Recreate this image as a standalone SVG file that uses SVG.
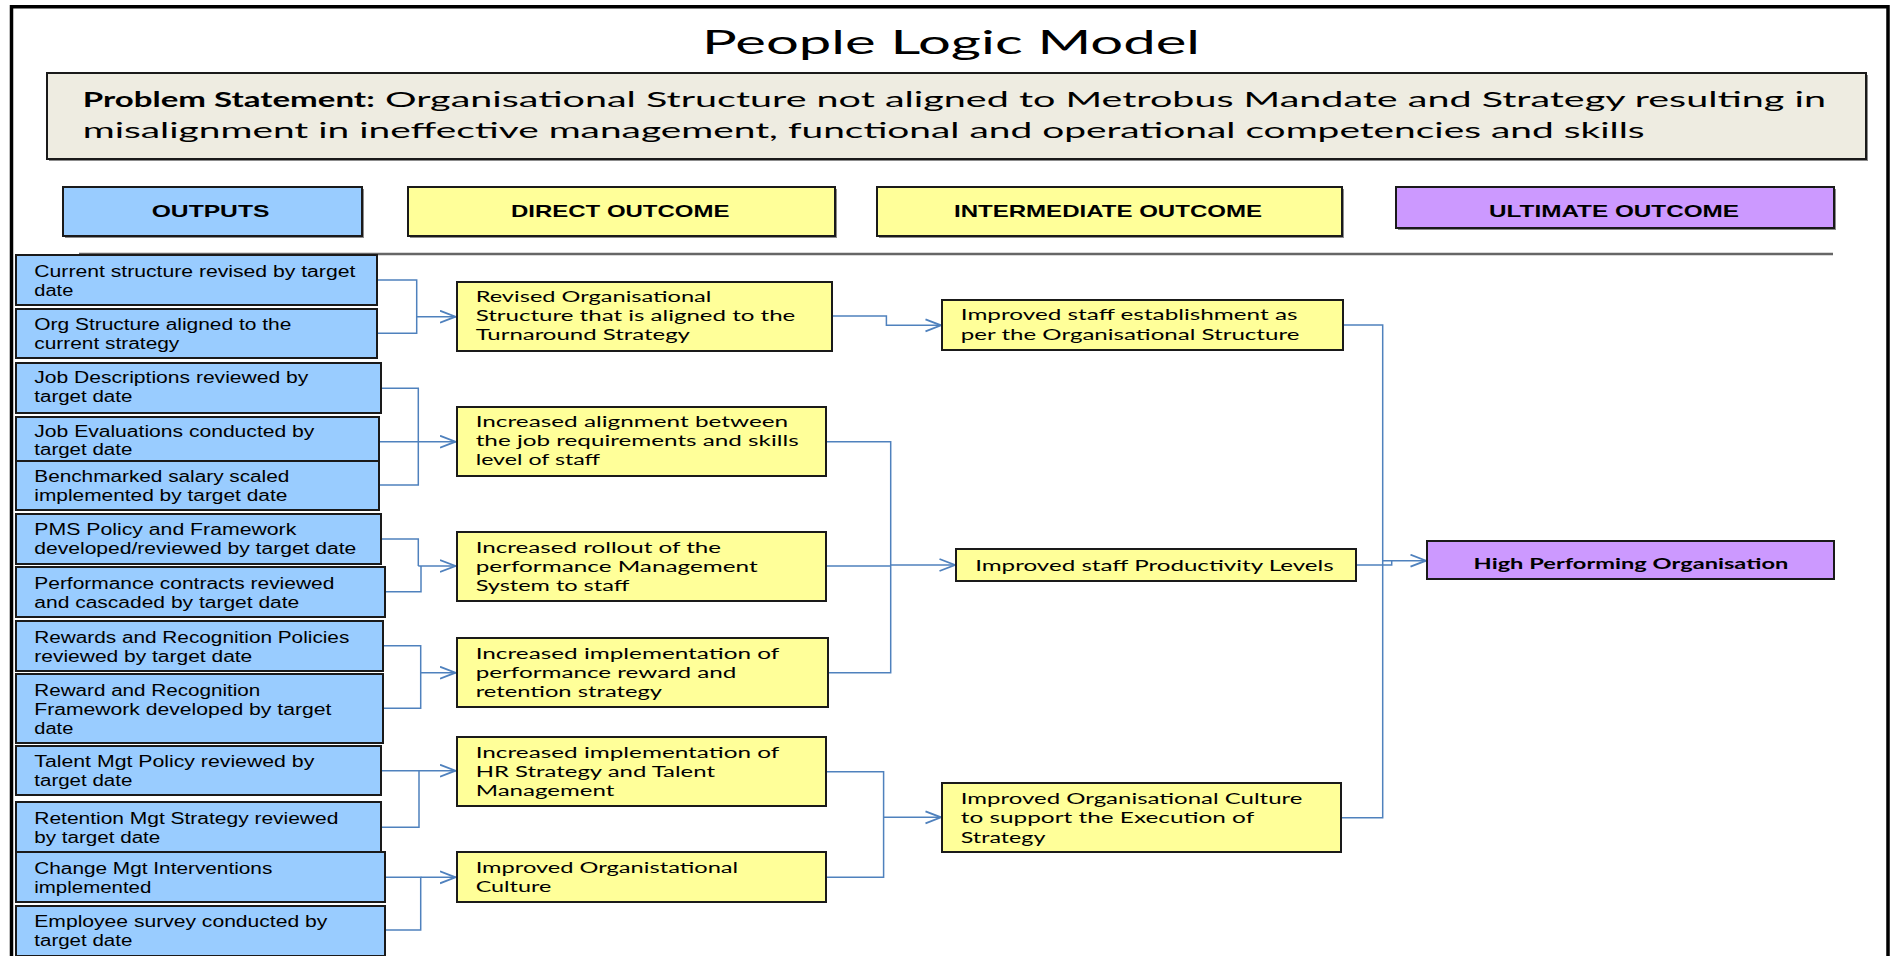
<svg xmlns="http://www.w3.org/2000/svg" width="1903" height="956" viewBox="0 0 1903 956">
<style>
.frame{fill:none;stroke:#000;stroke-width:3.5}
.box{stroke:#1a1a1a;stroke-width:2}
.shadow{fill:#8c8c8c}
.blue{fill:#99CCFF}
.yel{fill:#FFFF99}
.pur{fill:#CC99FF}
.prob{fill:#EEECE1}
.tout{font-family:"Liberation Sans",Arial,sans-serif;font-size:16px;fill:#000}
.thead{font-family:"Liberation Sans",Arial,sans-serif;font-size:17px;font-weight:bold;fill:#000}
.tyel{font-family:Lato,"Liberation Sans",sans-serif;font-size:15.5px;fill:#000}
.tint{font-family:Lato,"Liberation Sans",sans-serif;font-size:16px;fill:#000}
.title{font-family:Lato,"Liberation Sans",sans-serif;font-size:33px;fill:#000}
.tprob{font-family:Lato,"Liberation Sans",sans-serif;font-size:20.5px;fill:#000}
.conn{fill:none;stroke:#4F81BD;stroke-width:1.5}
</style>
<defs>
<marker id="arr" markerUnits="userSpaceOnUse" markerWidth="20" markerHeight="16" refX="16.5" refY="7" orient="auto">
<path d="M0.5,1 L16,7 L0.5,13" fill="none" stroke="#4F81BD" stroke-width="1.8"/>
</marker>
</defs>
<rect width="1903" height="956" fill="#fff"/>
<g id="frame">
<path class="frame" d="M11.5,958 V6.7 H1888 V958"/>
</g>
<g id="title">
<text class="title" x="702" y="54" textLength="498" lengthAdjust="spacingAndGlyphs">People Logic Model</text>
</g>
<g id="problem">
<rect class="shadow" x="49" y="75" width="1819" height="86"/>
<rect class="box prob" x="47" y="73" width="1819" height="86" stroke-width="1.5"/>
<text class="tprob" y="107"><tspan x="82.7" font-weight="bold" textLength="292" lengthAdjust="spacingAndGlyphs">Problem Statement:</tspan><tspan x="385" textLength="1441" lengthAdjust="spacingAndGlyphs">Organisational Structure not aligned to Metrobus Mandate and Strategy resulting in</tspan></text>
<text class="tprob" x="82.7" y="138" textLength="1562" lengthAdjust="spacingAndGlyphs">misalignment in ineffective management, functional and operational competencies and skills</text>
</g>
<g id="header-outputs">
<rect class="shadow" x="65" y="189" width="299" height="49"/>
<rect class="box blue" x="63" y="187" width="299" height="49" stroke-width="1.5"/>
<text class="thead" x="151.7" y="217.3" textLength="117.7" lengthAdjust="spacingAndGlyphs">OUTPUTS</text>
</g>
<g id="header-direct">
<rect class="shadow" x="410" y="189" width="427" height="49"/>
<rect class="box yel" x="408" y="187" width="427" height="49" stroke-width="1.5"/>
<text class="thead" x="511" y="217.3" textLength="218.4" lengthAdjust="spacingAndGlyphs">DIRECT OUTCOME</text>
</g>
<g id="header-intermediate">
<rect class="shadow" x="879" y="189" width="465" height="49"/>
<rect class="box yel" x="877" y="187" width="465" height="49" stroke-width="1.5"/>
<text class="thead" x="954" y="217.3" textLength="308" lengthAdjust="spacingAndGlyphs">INTERMEDIATE OUTCOME</text>
</g>
<g id="header-ultimate">
<rect class="shadow" x="1398" y="189" width="438" height="41"/>
<rect class="box pur" x="1396" y="187" width="438" height="41" stroke-width="1.5"/>
<text class="thead" x="1489" y="217.3" textLength="250" lengthAdjust="spacingAndGlyphs">ULTIMATE OUTCOME</text>
</g>
<line x1="79" y1="254" x2="1833" y2="254" stroke="#666" stroke-width="2.5"/>

<g id="connectors">
<path class="conn" d="M377,280 H416.7 V333.3 H377"/>
<path class="conn" d="M416.7,316.7 H456" marker-end="url(#arr)"/>
<path class="conn" d="M381,388.3 H418.3 V485 H379 M379,441.7 H418.3"/>
<path class="conn" d="M418.3,441.7 H456" marker-end="url(#arr)"/>
<path class="conn" d="M381,539 H418.3 V566 M385,591.7 H421 V566"/>
<path class="conn" d="M418.3,566 H456" marker-end="url(#arr)"/>
<path class="conn" d="M383,645.7 H420.7 V708.3 H383"/>
<path class="conn" d="M420.7,672.7 H456" marker-end="url(#arr)"/>
<path class="conn" d="M381,770.7 H419 V827.3 H381"/>
<path class="conn" d="M419,770.7 H456" marker-end="url(#arr)"/>
<path class="conn" d="M385,877.3 H420.7 V930 H385"/>
<path class="conn" d="M420.7,877.3 H456" marker-end="url(#arr)"/>
<path class="conn" d="M832,316 H886.4 V325.3 H941.5" marker-end="url(#arr)"/>
<path class="conn" d="M825.7,441.7 H890.7 V672.7 H827.5 M825.7,566 H890.7"/>
<path class="conn" d="M890.7,565 H955.5" marker-end="url(#arr)"/>
<path class="conn" d="M825.7,771.7 H883.6 V877.3 H825.7"/>
<path class="conn" d="M883.6,817.3 H941.5" marker-end="url(#arr)"/>
<path class="conn" d="M1343,325 H1382.7 V817.7 H1340.7"/>
<path class="conn" d="M1355.7,565 H1391.7 V560.7"/>
<path class="conn" d="M1382.7,560.7 H1426.5" marker-end="url(#arr)"/>
</g>

<g id="out1"><rect class="box blue" x="16" y="255" width="361" height="50"/>
<text class="tout" x="34.3" y="277.3" textLength="321" lengthAdjust="spacingAndGlyphs">Current structure revised by target</text>
<text class="tout" x="34.3" y="295.7" textLength="39" lengthAdjust="spacingAndGlyphs">date</text></g>
<g id="out2"><rect class="box blue" x="16" y="309" width="361" height="49"/>
<text class="tout" x="34.3" y="330" textLength="257" lengthAdjust="spacingAndGlyphs">Org Structure aligned to the</text>
<text class="tout" x="34.3" y="349" textLength="145" lengthAdjust="spacingAndGlyphs">current strategy</text></g>
<g id="out3"><rect class="box blue" x="16" y="363" width="365" height="50"/>
<text class="tout" x="34.3" y="383" textLength="274" lengthAdjust="spacingAndGlyphs">Job Descriptions reviewed by</text>
<text class="tout" x="34.3" y="402" textLength="98" lengthAdjust="spacingAndGlyphs">target date</text></g>
<g id="out4"><rect class="box blue" x="16" y="417" width="363" height="44"/>
<text class="tout" x="34.3" y="437" textLength="280" lengthAdjust="spacingAndGlyphs">Job Evaluations conducted by</text>
<text class="tout" x="34.3" y="455" textLength="98" lengthAdjust="spacingAndGlyphs">target date</text></g>
<g id="out5"><rect class="box blue" x="16" y="461" width="363" height="49"/>
<text class="tout" x="34.3" y="482" textLength="255" lengthAdjust="spacingAndGlyphs">Benchmarked salary scaled</text>
<text class="tout" x="34.3" y="501" textLength="253" lengthAdjust="spacingAndGlyphs">implemented by target date</text></g>
<g id="out6"><rect class="box blue" x="16" y="514" width="365" height="50"/>
<text class="tout" x="34.3" y="535" textLength="262" lengthAdjust="spacingAndGlyphs">PMS Policy and Framework</text>
<text class="tout" x="34.3" y="554" textLength="322" lengthAdjust="spacingAndGlyphs">developed/reviewed by target date</text></g>
<g id="out7"><rect class="box blue" x="16" y="567" width="369" height="50"/>
<text class="tout" x="34.3" y="589" textLength="300" lengthAdjust="spacingAndGlyphs">Performance contracts reviewed</text>
<text class="tout" x="34.3" y="608" textLength="265" lengthAdjust="spacingAndGlyphs">and cascaded by target date</text></g>
<g id="out8"><rect class="box blue" x="16" y="621" width="367" height="50"/>
<text class="tout" x="34.3" y="643" textLength="315" lengthAdjust="spacingAndGlyphs">Rewards and Recognition Policies</text>
<text class="tout" x="34.3" y="662" textLength="218" lengthAdjust="spacingAndGlyphs">reviewed by target date</text></g>
<g id="out9"><rect class="box blue" x="16" y="674" width="367" height="69"/>
<text class="tout" x="34.3" y="696" textLength="226" lengthAdjust="spacingAndGlyphs">Reward and Recognition</text>
<text class="tout" x="34.3" y="715" textLength="297" lengthAdjust="spacingAndGlyphs">Framework developed by target</text>
<text class="tout" x="34.3" y="734" textLength="39" lengthAdjust="spacingAndGlyphs">date</text></g>
<g id="out10"><rect class="box blue" x="16" y="746" width="365" height="49"/>
<text class="tout" x="34.3" y="767" textLength="280" lengthAdjust="spacingAndGlyphs">Talent Mgt Policy reviewed by</text>
<text class="tout" x="34.3" y="786" textLength="98" lengthAdjust="spacingAndGlyphs">target date</text></g>
<g id="out11"><rect class="box blue" x="16" y="802" width="365" height="50"/>
<text class="tout" x="34.3" y="824" textLength="304" lengthAdjust="spacingAndGlyphs">Retention Mgt Strategy reviewed</text>
<text class="tout" x="34.3" y="843" textLength="126" lengthAdjust="spacingAndGlyphs">by target date</text></g>
<g id="out12"><rect class="box blue" x="16" y="852" width="369" height="50"/>
<text class="tout" x="34.3" y="874" textLength="238" lengthAdjust="spacingAndGlyphs">Change Mgt Interventions</text>
<text class="tout" x="34.3" y="893" textLength="117" lengthAdjust="spacingAndGlyphs">implemented</text></g>
<g id="out13"><rect class="box blue" x="16" y="906" width="369" height="50"/>
<text class="tout" x="34.3" y="927" textLength="293" lengthAdjust="spacingAndGlyphs">Employee survey conducted by</text>
<text class="tout" x="34.3" y="946" textLength="98" lengthAdjust="spacingAndGlyphs">target date</text></g>

<g id="direct1"><rect class="box yel" x="457" y="282" width="375" height="69"/>
<text class="tyel" x="475.7" y="302.3" textLength="235.7" lengthAdjust="spacingAndGlyphs">Revised Organisational</text>
<text class="tyel" x="475.7" y="321" textLength="319.6" lengthAdjust="spacingAndGlyphs">Structure that is aligned to the</text>
<text class="tyel" x="475.7" y="340" textLength="214.3" lengthAdjust="spacingAndGlyphs">Turnaround Strategy</text></g>
<g id="direct2"><rect class="box yel" x="457" y="407" width="369" height="69"/>
<text class="tyel" x="475.7" y="426.7" textLength="312.5" lengthAdjust="spacingAndGlyphs">Increased alignment between</text>
<text class="tyel" x="475.7" y="446" textLength="323" lengthAdjust="spacingAndGlyphs">the job requirements and skills</text>
<text class="tyel" x="475.7" y="465" textLength="124.3" lengthAdjust="spacingAndGlyphs">level of staff</text></g>
<g id="direct3"><rect class="box yel" x="457" y="532" width="369" height="69"/>
<text class="tyel" x="475.7" y="552.7" textLength="245.4" lengthAdjust="spacingAndGlyphs">Increased rollout of the</text>
<text class="tyel" x="475.7" y="571.7" textLength="282" lengthAdjust="spacingAndGlyphs">performance Management</text>
<text class="tyel" x="475.7" y="590.7" textLength="153.6" lengthAdjust="spacingAndGlyphs">System to staff</text></g>
<g id="direct4"><rect class="box yel" x="457" y="638" width="371" height="69"/>
<text class="tyel" x="475.7" y="659.3" textLength="303.6" lengthAdjust="spacingAndGlyphs">Increased implementation of</text>
<text class="tyel" x="475.7" y="678.3" textLength="260.7" lengthAdjust="spacingAndGlyphs">performance reward and</text>
<text class="tyel" x="475.7" y="697.3" textLength="186.4" lengthAdjust="spacingAndGlyphs">retention strategy</text></g>
<g id="direct5"><rect class="box yel" x="457" y="737" width="369" height="69"/>
<text class="tyel" x="475.7" y="757.7" textLength="303.6" lengthAdjust="spacingAndGlyphs">Increased implementation of</text>
<text class="tyel" x="475.7" y="776.7" textLength="239.3" lengthAdjust="spacingAndGlyphs">HR Strategy and Talent</text>
<text class="tyel" x="475.7" y="795.7" textLength="138.6" lengthAdjust="spacingAndGlyphs">Management</text></g>
<g id="direct6"><rect class="box yel" x="457" y="852" width="369" height="50"/>
<text class="tyel" x="475.7" y="873.3" textLength="262.5" lengthAdjust="spacingAndGlyphs">Improved Organistational</text>
<text class="tyel" x="475.7" y="892.3" textLength="75.7" lengthAdjust="spacingAndGlyphs">Culture</text></g>

<g id="inter1"><rect class="box yel" x="942" y="300" width="401" height="50"/>
<text class="tint" x="960.8" y="320" textLength="336.7" lengthAdjust="spacingAndGlyphs">Improved staff establishment as</text>
<text class="tint" x="960.8" y="340" textLength="338.6" lengthAdjust="spacingAndGlyphs">per the Organisational Structure</text></g>
<g id="inter2"><rect class="box yel" x="956" y="549" width="400" height="32"/>
<text class="tint" x="975.2" y="570.7" textLength="358.6" lengthAdjust="spacingAndGlyphs">Improved staff Productivity Levels</text></g>
<g id="inter3"><rect class="box yel" x="942" y="783" width="399" height="69"/>
<text class="tint" x="960.8" y="804" textLength="341.7" lengthAdjust="spacingAndGlyphs">Improved Organisational Culture</text>
<text class="tint" x="960.8" y="823.3" textLength="293.4" lengthAdjust="spacingAndGlyphs">to support the Execution of</text>
<text class="tint" x="960.8" y="842.7" textLength="84.6" lengthAdjust="spacingAndGlyphs">Strategy</text></g>

<g id="ultimate"><rect class="box pur" x="1427" y="541" width="407" height="38"/>
<text class="tint" x="1473.6" y="569.3" font-weight="bold" textLength="314.7" lengthAdjust="spacingAndGlyphs">High Performing Organisation</text></g>
</svg>
